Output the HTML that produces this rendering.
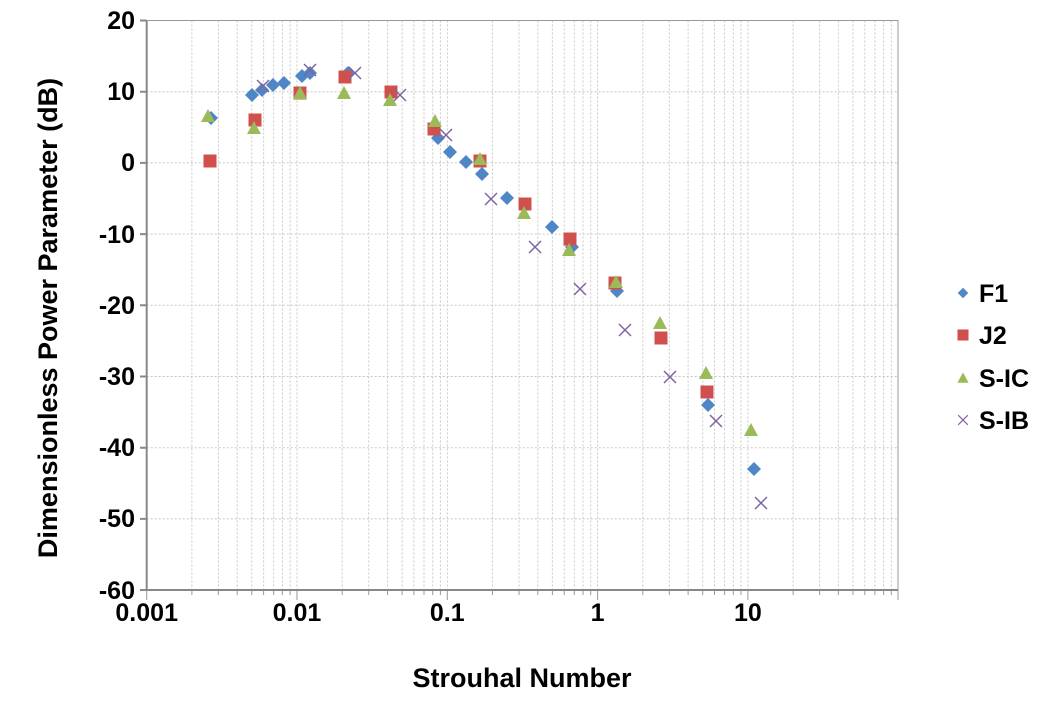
<!DOCTYPE html>
<html><head><meta charset="utf-8"><style>
html,body{margin:0;padding:0;background:#fff}
svg{display:block;font-family:"Liberation Sans",Arial,sans-serif;font-weight:bold}
</style></head><body>
<svg width="1046" height="708" viewBox="0 0 1046 708">
<defs>
<path id="d" d="M0,-7L7,0L0,7L-7,0Z" fill="#4f86c6"/>
<rect id="s" x="-6.5" y="-6.5" width="13" height="13" fill="#d0504d"/>
<path id="t" d="M0,-7L7,6L-7,6Z" fill="#9bbb59"/>
<path id="x" d="M-6,-6L6,6M6,-6L-6,6" stroke="#8064a2" stroke-width="1.5" fill="none"/>
</defs>
<g stroke="#c8c8c8" stroke-width="1" stroke-dasharray="2,2" fill="none">
<path d="M191.9,20.5V590M218.4,20.5V590M237.2,20.5V590M251.8,20.5V590M263.6,20.5V590M273.7,20.5V590M282.4,20.5V590M290.1,20.5V590M297,20.5V590
M342.2,20.5V590M368.7,20.5V590M387.5,20.5V590M402.1,20.5V590M413.9,20.5V590M424,20.5V590M432.7,20.5V590M440.4,20.5V590M447.3,20.5V590
M492.5,20.5V590M519,20.5V590M537.8,20.5V590M552.4,20.5V590M564.2,20.5V590M574.3,20.5V590M583,20.5V590M590.7,20.5V590M597.6,20.5V590
M642.8,20.5V590M669.3,20.5V590M688.1,20.5V590M702.7,20.5V590M714.5,20.5V590M724.6,20.5V590M733.3,20.5V590M741,20.5V590M747.9,20.5V590
M793.1,20.5V590M819.6,20.5V590M838.4,20.5V590M853,20.5V590M864.8,20.5V590M874.9,20.5V590M883.6,20.5V590M891.3,20.5V590"/>
<path d="M146.7,91.7H898M146.7,162.9H898M146.7,234.1H898M146.7,305.3H898M146.7,376.5H898M146.7,447.7H898M146.7,518.9H898"/>
</g>
<g stroke="#999" stroke-width="1" fill="none">
<path d="M146.7,20.5H898V590"/>
<path d="M191.9,590v5M218.4,590v5M237.2,590v5M251.8,590v5M263.6,590v5M273.7,590v5M282.4,590v5M290.1,590v5
M342.2,590v5M368.7,590v5M387.5,590v5M402.1,590v5M413.9,590v5M424,590v5M432.7,590v5M440.4,590v5
M492.5,590v5M519,590v5M537.8,590v5M552.4,590v5M564.2,590v5M574.3,590v5M583,590v5M590.7,590v5
M642.8,590v5M669.3,590v5M688.1,590v5M702.7,590v5M714.5,590v5M724.6,590v5M733.3,590v5M741,590v5
M793.1,590v5M819.6,590v5M838.4,590v5M853,590v5M864.8,590v5M874.9,590v5M883.6,590v5M891.3,590v5
M146.7,590v10M297,590v10M447.3,590v10M597.6,590v10M747.9,590v10M898,590v10"/>
</g>
<path d="M146.7,20.5V590H898M140,20.5H146.7M140,91.7H146.7M140,162.9H146.7M140,234.1H146.7M140,305.3H146.7M140,376.5H146.7M140,447.7H146.7M140,518.9H146.7M140,590H146.7" stroke="#888" stroke-width="2" fill="none"/>
<g font-size="25" text-anchor="end" fill="#000">
<text x="135" y="29">20</text><text x="135" y="100">10</text><text x="135" y="171">0</text>
<text x="135" y="243">-10</text><text x="135" y="314">-20</text><text x="135" y="385">-30</text>
<text x="135" y="456">-40</text><text x="135" y="527">-50</text><text x="135" y="599">-60</text>
</g>
<g font-size="25" text-anchor="middle" fill="#000">
<text x="146.7" y="621">0.001</text><text x="297" y="621">0.01</text><text x="447.3" y="621">0.1</text>
<text x="597.6" y="621">1</text><text x="747.9" y="621">10</text>
</g>
<text x="522" y="687" font-size="27" text-anchor="middle">Strouhal Number</text>
<text transform="translate(57,318) rotate(-90)" font-size="27" text-anchor="middle">Dimensionless Power Parameter (dB)</text>
<g>
<use href="#d" x="211" y="118"/><use href="#d" x="252" y="95"/><use href="#d" x="262" y="90"/><use href="#d" x="273" y="85"/><use href="#d" x="284" y="83"/><use href="#d" x="302" y="76"/><use href="#d" x="310" y="73"/><use href="#d" x="348" y="73"/><use href="#d" x="438" y="138"/><use href="#d" x="450" y="152"/><use href="#d" x="466" y="162"/><use href="#d" x="482" y="174"/><use href="#d" x="507" y="198"/><use href="#d" x="552" y="227"/><use href="#d" x="572" y="247"/><use href="#d" x="617" y="291"/><use href="#d" x="708" y="405"/><use href="#d" x="754" y="469"/>
<use href="#s" x="210" y="161"/><use href="#s" x="255" y="120"/><use href="#s" x="300" y="93"/><use href="#s" x="345" y="77"/><use href="#s" x="391" y="92"/><use href="#s" x="434" y="129"/><use href="#s" x="480" y="161"/><use href="#s" x="525" y="204"/><use href="#s" x="570" y="239"/><use href="#s" x="615" y="283"/><use href="#s" x="661" y="338"/><use href="#s" x="707" y="392"/>
<use href="#t" x="208" y="116"/><use href="#t" x="254" y="128"/><use href="#t" x="300" y="93"/><use href="#t" x="344" y="93"/><use href="#t" x="390" y="100"/><use href="#t" x="435" y="121"/><use href="#t" x="480" y="159"/><use href="#t" x="524" y="213"/><use href="#t" x="569" y="250"/><use href="#t" x="616" y="282"/><use href="#t" x="660" y="323"/><use href="#t" x="706" y="373"/><use href="#t" x="751" y="430"/>
<use href="#x" x="263" y="86"/><use href="#x" x="310" y="70"/><use href="#x" x="355" y="73"/><use href="#x" x="400" y="95"/><use href="#x" x="446" y="135"/><use href="#x" x="491" y="199"/><use href="#x" x="535" y="247"/><use href="#x" x="580" y="289"/><use href="#x" x="625" y="330"/><use href="#x" x="670" y="377"/><use href="#x" x="716" y="421"/><use href="#x" x="761" y="503"/>
</g>
<g font-size="25" fill="#000">
<use href="#d" transform="translate(963,293) scale(0.75)"/><text x="979" y="302">F1</text>
<use href="#s" transform="translate(963,335) scale(0.85)"/><text x="979" y="344">J2</text>
<use href="#t" transform="translate(963,378) scale(0.8)"/><text x="979" y="387">S-IC</text>
<use href="#x" transform="translate(963,420) scale(0.8)"/><text x="979" y="429">S-IB</text>
</g>
</svg>
</body></html>
